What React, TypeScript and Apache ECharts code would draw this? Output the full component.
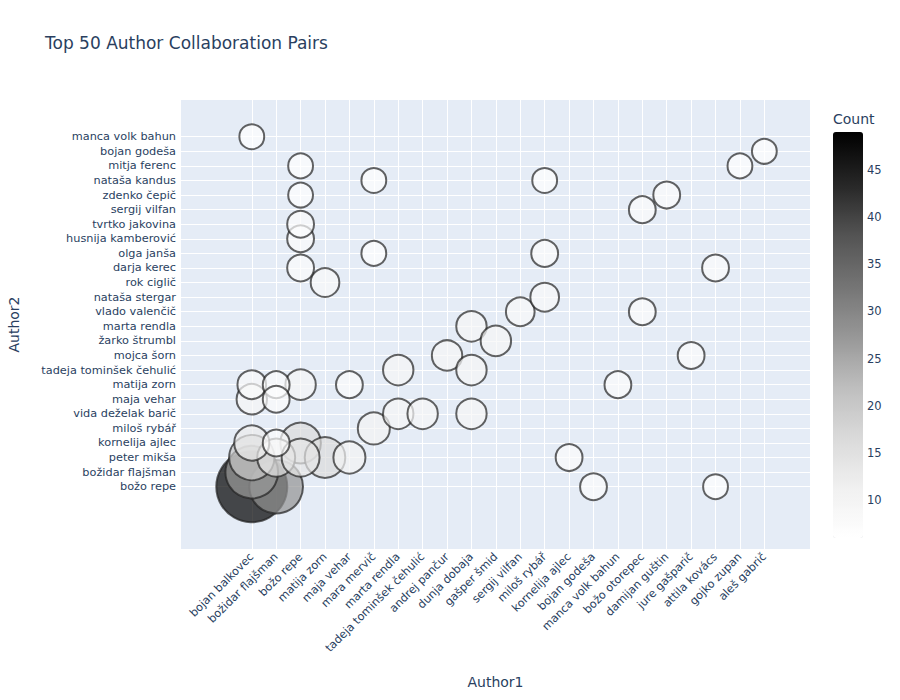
import * as echarts from 'echarts';
import React, { useEffect, useRef } from 'react';

// x axis categories (Author1), in order of appearance
const author1Names = [
  'bojan balkovec', 'božidar flajšman', 'božo repe', 'matija zorn', 'maja vehar',
  'mara mervič', 'marta rendla', 'tadeja tominšek čehulić', 'andrej pančur',
  'dunja dobaja', 'gašper šmid', 'sergij vilfan', 'miloš rybář', 'kornelija ajlec',
  'bojan godeša', 'manca volk bahun', 'božo otorepec', 'damijan guštin',
  'jure gašparič', 'attila kovács', 'gojko zupan', 'aleš gabrič',
];

// y axis categories (Author2), bottom to top
const author2Names = [
  'božo repe', 'božidar flajšman', 'peter mikša', 'kornelija ajlec', 'miloš rybář',
  'vida deželak barič', 'maja vehar', 'matija zorn', 'tadeja tominšek čehulić',
  'mojca šorn', 'žarko štrumbl', 'marta rendla', 'vlado valenčič', 'nataša stergar',
  'rok ciglič', 'darja kerec', 'olga janša', 'husnija kamberović', 'tvrtko jakovina',
  'sergij vilfan', 'zdenko čepič', 'nataša kandus', 'mitja ferenc', 'bojan godeša',
  'manca volk bahun',
];

// the 50 pairs, sorted by count
const pairAuthor1 = [
  'bojan balkovec', 'božidar flajšman', 'bojan balkovec', 'bojan balkovec', 'božo repe',
  'matija zorn', 'božidar flajšman', 'božo repe', 'bojan balkovec', 'maja vehar',
  'mara mervič', 'božo repe', 'bojan balkovec', 'marta rendla', 'tadeja tominšek čehulić',
  'andrej pančur', 'dunja dobaja', 'dunja dobaja', 'dunja dobaja', 'gašper šmid',
  'marta rendla', 'sergij vilfan', 'miloš rybář', 'matija zorn', 'bojan balkovec',
  'božidar flajšman', 'božidar flajšman', 'božidar flajšman', 'maja vehar', 'kornelija ajlec',
  'bojan godeša', 'manca volk bahun', 'božo otorepec', 'božo otorepec', 'damijan guštin',
  'jure gašparič', 'attila kovács', 'miloš rybář', 'božo repe', 'božo repe',
  'božo repe', 'attila kovács', 'gojko zupan', 'aleš gabrič', 'bojan balkovec',
  'božo repe', 'mara mervič', 'mara mervič', 'miloš rybář', 'božo repe',
];
const pairAuthor2 = [
  'božo repe', 'božo repe', 'božidar flajšman', 'peter mikša', 'kornelija ajlec',
  'peter mikša', 'peter mikša', 'peter mikša', 'kornelija ajlec', 'peter mikša',
  'miloš rybář', 'matija zorn', 'maja vehar', 'vida deželak barič', 'vida deželak barič',
  'mojca šorn', 'marta rendla', 'tadeja tominšek čehulić', 'vida deželak barič', 'žarko štrumbl',
  'tadeja tominšek čehulić', 'vlado valenčič', 'nataša stergar', 'rok ciglič', 'matija zorn',
  'matija zorn', 'maja vehar', 'kornelija ajlec', 'matija zorn', 'peter mikša',
  'božo repe', 'matija zorn', 'vlado valenčič', 'sergij vilfan', 'zdenko čepič',
  'mojca šorn', 'darja kerec', 'olga janša', 'darja kerec', 'husnija kamberović',
  'tvrtko jakovina', 'božo repe', 'mitja ferenc', 'bojan godeša', 'manca volk bahun',
  'mitja ferenc', 'nataša kandus', 'olga janša', 'nataša kandus', 'zdenko čepič',
];
const pairCount = [
  49, 28, 27, 20, 16,
  16, 14, 14, 12, 10,
  10, 9, 9, 9, 9,
  9, 9, 9, 9, 9,
  9, 8, 8, 8, 8,
  7, 7, 7, 7, 7,
  7, 7, 7, 7, 7,
  7, 7, 7, 7, 7,
  7, 6, 6, 6, 6,
  6, 6, 6, 6, 6,
];

const greys = [
  'rgb(255,255,255)', 'rgb(240,240,240)', 'rgb(217,217,217)', 'rgb(189,189,189)',
  'rgb(150,150,150)', 'rgb(115,115,115)', 'rgb(82,82,82)', 'rgb(37,37,37)', 'rgb(0,0,0)',
];
const colorTicks = [10, 15, 20, 25, 30, 35, 40, 45];

const textColor = '#2a3f5f';
const font = '"DejaVu Sans", Verdana, sans-serif';
const tickSize = 11.3;

const App: React.FC = () => {
  const chartRef = useRef<HTMLDivElement>(null);

  useEffect(() => {
    document.body.style.margin = '0';
    const chart = echarts.init(chartRef.current!, null, { renderer: 'svg' });

    const points = pairCount.map((c, i) => [
      author1Names.indexOf(pairAuthor1[i]),
      author2Names.indexOf(pairAuthor2[i]),
      c,
    ]);
    const xIdx = author1Names.map((_, i) => i);
    const yIdx = author2Names.map((_, i) => i);
    const maxCount = Math.max(...pairCount);
    const minCount = Math.min(...pairCount);

    const option = {
      animation: false,
      textStyle: { fontFamily: font },
      title: [
        {
          text: 'Top 50 Author Collaboration Pairs',
          left: 45,
          top: 34,
          padding: 0,
          textStyle: { color: textColor, fontSize: 17, fontWeight: 'normal', fontFamily: font },
        },
        {
          text: 'Count',
          left: 833,
          top: 112,
          padding: 0,
          textStyle: { color: textColor, fontSize: 14, fontWeight: 'normal', fontFamily: font },
        },
      ],
      grid: [
        {
          left: 181, right: 90, top: 100, bottom: 151,
          backgroundColor: '#E5ECF6', show: true, borderWidth: 0,
          outerBoundsMode: 'none', containLabel: false,
        },
        { left: 833, width: 30, top: 132, height: 406, show: false, outerBoundsMode: 'none' },
      ],
      xAxis: [
        {
          type: 'value',
          min: -2.9,
          max: 22.87,
          name: 'Author1',
          nameLocation: 'middle',
          nameGap: 126,
          nameTextStyle: { color: textColor, fontSize: 14, fontFamily: font },
          axisLine: { show: false },
          axisTick: { show: false, customValues: xIdx },
          axisLabel: {
            customValues: xIdx,
            formatter: (v: number) => author1Names[Math.round(v)] ?? '',
            rotate: 45,
            margin: 6,
            lineHeight: 12,
            color: textColor,
            fontSize: tickSize,
            fontFamily: font,
          },
          splitLine: { show: true, lineStyle: { color: '#ffffff', width: 1 } },
        },
        { type: 'value', gridIndex: 1, show: false, min: 0, max: 1 },
      ],
      yAxis: [
        {
          type: 'value',
          min: -4.27,
          max: 26.52,
          name: 'Author2',
          nameLocation: 'middle',
          nameGap: 160,
          nameTextStyle: { color: textColor, fontSize: 14, fontFamily: font },
          axisLine: { show: false },
          axisTick: { show: false, customValues: yIdx },
          axisLabel: {
            customValues: yIdx,
            formatter: (v: number) => author2Names[Math.round(v)] ?? '',
            margin: 5,
            lineHeight: 12,
            color: textColor,
            fontSize: tickSize,
            fontFamily: font,
          },
          splitLine: { show: true, lineStyle: { color: '#ffffff', width: 1 } },
        },
        {
          type: 'value',
          gridIndex: 1,
          min: minCount,
          max: maxCount,
          position: 'right',
          axisLine: { show: false },
          axisTick: { show: false, customValues: colorTicks },
          splitLine: { show: false },
          axisLabel: {
            customValues: colorTicks,
            margin: 4,
            color: textColor,
            fontSize: 11.5,
            fontFamily: font,
          },
        },
      ],
      visualMap: {
        type: 'continuous',
        seriesIndex: 0,
        dimension: 2,
        min: minCount,
        max: maxCount,
        calculable: false,
        left: 833,
        top: 132,
        padding: 0,
        itemWidth: 30,
        itemHeight: 406,
        text: null,
        showLabel: false,
        inRange: { color: greys },
      },
      series: [
        {
          type: 'scatter',
          data: points,
          symbolSize: (v: number[]) => 71 * Math.sqrt(v[2] / maxCount),
          itemStyle: { opacity: 0.7, borderColor: '#222222', borderWidth: 2 },
          emphasis: { disabled: true },
        },
      ],
    };

    chart.setOption(option);

    return () => {
      chart.dispose();
    };
  }, []);

  return <div ref={chartRef} style={{ width: '900px', height: '700px' }} />;
};

export default App;
